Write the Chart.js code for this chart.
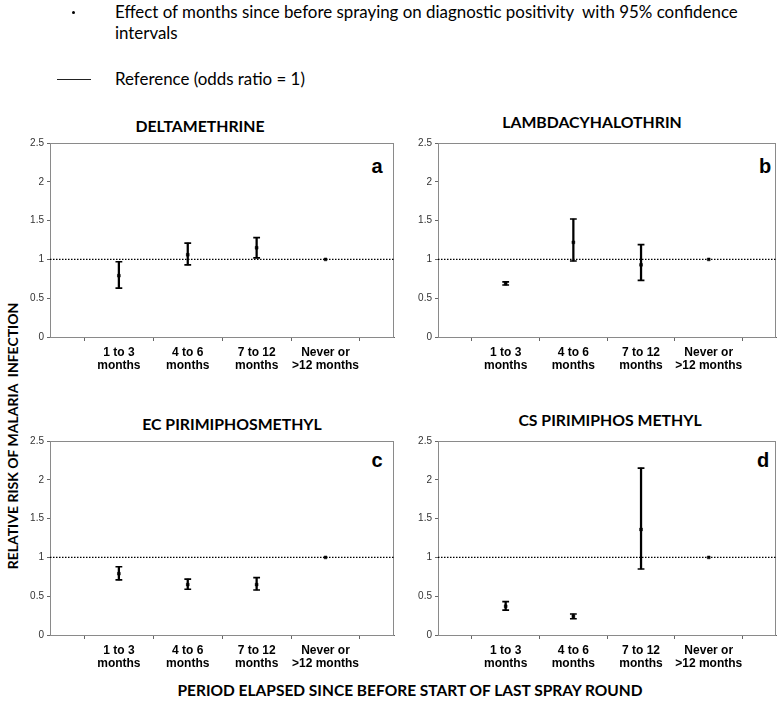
<!DOCTYPE html>
<html>
<head>
<meta charset="utf-8">
<script src="https://cdn.jsdelivr.net/npm/chart.js@4.4.1/dist/chart.umd.min.js"></script>
<style>
  html, body { margin:0; padding:0; background:#fff; }
  body { width:782px; height:705px; position:relative; overflow:hidden; }
  canvas { position:absolute; }
  .t { position:absolute; white-space:nowrap; color:#000; font-family:"Lato","Open Sans",sans-serif; }
  .ptitle { font-weight:bold; font-size:15.8px; transform:translate(-50%,-50%); }
  .letter { font-family:"Liberation Sans",Arial,sans-serif; font-weight:bold; font-size:20px; transform:translate(-50%,-50%); }
</style>
</head>
<body>
<div class="t" style="left:72px;top:11px;width:3px;height:3px;background:#000;border-radius:50%;"></div>
<div class="t" style="left:115px;top:1px;font-size:16.9px;line-height:21px;">Effect of months since before spraying on diagnostic positivity&nbsp; with 95% confidence<br>intervals</div>
<div class="t" style="left:57px;top:79px;width:34px;height:1.3px;background:#222;"></div>
<div class="t" style="left:115px;top:68px;font-size:16.9px;line-height:21px;">Reference (odds ratio = 1)</div>

<div class="t ptitle" style="left:200px;top:125px;">DELTAMETHRINE</div>
<div class="t ptitle" style="left:592px;top:121px;">LAMBDACYHALOTHRIN</div>
<div class="t ptitle" style="left:232px;top:423px;">EC PIRIMIPHOSMETHYL</div>
<div class="t ptitle" style="left:610px;top:419px;">CS PIRIMIPHOS METHYL</div>

<div class="t letter" style="left:377px;top:166px;">a</div>
<div class="t letter" style="left:765px;top:166px;">b</div>
<div class="t letter" style="left:377px;top:460px;">c</div>
<div class="t letter" style="left:763px;top:460px;">d</div>

<div class="t" style="left:12px;top:436px;font-weight:bold;font-size:14px;transform:translate(-50%,-50%) rotate(-90deg);">RELATIVE RISK OF MALARIA&nbsp; INFECTION</div>
<div class="t" style="left:410px;top:690px;font-weight:bold;font-size:15.5px;transform:translate(-50%,-50%);">PERIOD ELAPSED SINCE BEFORE START OF LAST SPRAY ROUND</div>

<canvas id="ca" width="400" height="260" style="left:0px;top:130px;"></canvas>
<canvas id="cb" width="392" height="260" style="left:390px;top:130px;"></canvas>
<canvas id="cc" width="400" height="260" style="left:0px;top:428px;"></canvas>
<canvas id="cd" width="392" height="260" style="left:390px;top:428px;"></canvas>

<script>
// ---- data ----
const categories = [['1 to 3','months'],['4 to 6','months'],['7 to 12','months'],['Never or','>12 months']];
const yTickLabels = ['0','0.5','1','1.5','2','2.5'];
const referenceValue = 1;

const deltaOR = [0.79, 1.06, 1.15, 1];
const deltaLo = [0.63, 0.93, 1.02, null];
const deltaHi = [0.97, 1.21, 1.28, null];

const lambdaOR = [0.69, 1.22, 0.93, 1];
const lambdaLo = [0.67, 0.98, 0.73, null];
const lambdaHi = [0.71, 1.52, 1.19, null];

const ecOR = [0.79, 0.65, 0.65, 1];
const ecLo = [0.71, 0.59, 0.58, null];
const ecHi = [0.88, 0.72, 0.74, null];

const csOR = [0.37, 0.24, 1.36, 1];
const csLo = [0.32, 0.21, 0.85, null];
const csHi = [0.43, 0.27, 2.15, null];

const yMin = 0, yMax = 2.5, yStep = 0.5;

// ---- chart building ----
const pad = arr => [null, ...arr, null];
const labels = ['', ...categories, ''];

const borderPlugin = {
  id: 'plotBorder',
  beforeDatasetsDraw(chart) {
    const a = chart.chartArea, ctx = chart.ctx;
    ctx.save();
    ctx.strokeStyle = '#8a8a8a';
    ctx.lineWidth = 1;
    ctx.strokeRect(Math.round(a.left)+0.5, Math.round(a.top)+0.5, Math.round(a.right-a.left)-1, Math.round(a.bottom-a.top));
    ctx.restore();
  }
};

function makeChart(id, or, lo, hi, yWidth, padRight) {
  const ranges = lo.map((l, i) => (l == null ? null : [l, hi[i]]));
  new Chart(document.getElementById(id), {
    type: 'bar',
    data: {
      labels: labels,
      datasets: [
        { type:'line', data: labels.map(() => referenceValue), borderColor:'#000', borderWidth:1.2,
          borderDash:[1.5,1.5], pointRadius:0, fill:false, order:5 },
        { type:'bar', data: pad(ranges), backgroundColor:'#000', borderWidth:0, barThickness:1.6, grouped:false, order:4 },
        { type:'line', data: pad(hi), showLine:false, pointStyle:'line', pointRadius:3.4,
          pointBorderWidth:1.6, borderColor:'#000', backgroundColor:'#000', order:3 },
        { type:'line', data: pad(lo), showLine:false, pointStyle:'line', pointRadius:3.4,
          pointBorderWidth:1.6, borderColor:'#000', backgroundColor:'#000', order:2 },
        { type:'line', data: pad(or), showLine:false, pointStyle:'rect', pointRadius:2,
          pointBorderWidth:0.5, borderColor:'#000', backgroundColor:'#000', order:1 }
      ]
    },
    options: {
      responsive:false, animation:false, events:[],
      devicePixelRatio:1,
      layout:{ padding:{ top:13, right:padRight, left:0, bottom:0 } },
      plugins:{ legend:{display:false}, tooltip:{enabled:false}, title:{display:false} },
      scales:{
        x:{
          type:'category', offset:false,
          grid:{ display:true, drawOnChartArea:false, drawTicks:true, tickLength:4, color:'#666' },
          border:{ color:'#666', width:1 },
          ticks:{ autoSkip:false, maxRotation:0, minRotation:0, padding:5, color:'#000',
                  font:{ family:'"Liberation Sans", Arial, sans-serif', weight:'bold', size:12, lineHeight:1.1 } },
          afterFit: s => { s.height = 53; }
        },
        y:{
          min:yMin, max:yMax,
          grid:{ display:true, drawOnChartArea:false, drawTicks:true, tickLength:3, color:'#666' },
          border:{ color:'#666', width:1 },
          ticks:{ stepSize:yStep, padding:3, color:'#333',
                  font:{ family:'"Liberation Sans", Arial, sans-serif', size:10 },
                  callback: (v, i) => yTickLabels[i] },
          afterFit: s => { s.width = yWidth; }
        }
      }
    },
    plugins:[borderPlugin]
  });
}

makeChart('ca', deltaOR, deltaLo, deltaHi, 50, 5);
makeChart('cb', lambdaOR, lambdaLo, lambdaHi, 48, 2);
makeChart('cc', ecOR, ecLo, ecHi, 50, 5);
makeChart('cd', csOR, csLo, csHi, 48, 2);
</script>
</body>
</html>
